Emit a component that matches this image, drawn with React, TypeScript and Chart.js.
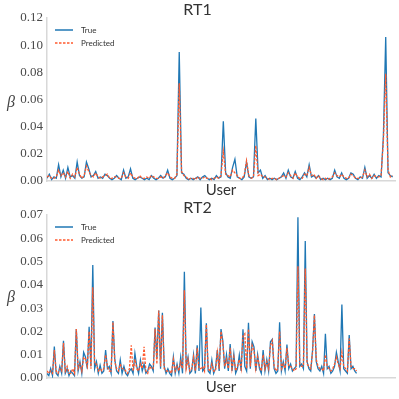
import React, { useEffect, useRef } from "react";
import { Chart, registerables } from "chart.js";

Chart.register(...registerables);

// RT1 (top panel)
const rt1True = [
  0.002, 0.005, 0.001, 0.003, 0.002, 0.012, 0.003, 0.008, 0.002, 0.010,
  0.003, 0.004, 0.002, 0.014, 0.004, 0.002, 0.003, 0.014, 0.009, 0.003,
  0.004, 0.007, 0.002, 0.003, 0.002, 0.005, 0.004, 0.002, 0.001, 0.002,
  0.004, 0.002, 0.001, 0.008, 0.002, 0.003, 0.009, 0.002, 0.001, 0.002,
  0.003, 0.002, 0.001, 0.002, 0.001, 0.004, 0.002, 0.001, 0.002, 0.004,
  0.002, 0.003, 0.008, 0.002, 0.001, 0.002, 0.004, 0.095, 0.006, 0.005,
  0.002, 0.001, 0.002, 0.001, 0.002, 0.003, 0.001, 0.003, 0.004, 0.002,
  0.001, 0.002, 0.001, 0.004, 0.002, 0.003, 0.044, 0.006, 0.003, 0.002,
  0.010, 0.016, 0.003, 0.002, 0.001, 0.003, 0.014, 0.003, 0.002, 0.003,
  0.046, 0.006, 0.008, 0.002, 0.004, 0.001, 0.002, 0.001, 0.002, 0.001,
  0.002, 0.003, 0.006, 0.002, 0.008, 0.003, 0.002, 0.007, 0.002, 0.001,
  0.003, 0.006, 0.003, 0.012, 0.003, 0.004, 0.002, 0.004, 0.001, 0.002,
  0.001, 0.002, 0.001, 0.002, 0.008, 0.003, 0.002, 0.006, 0.002, 0.001,
  0.002, 0.006, 0.005, 0.002, 0.001, 0.003, 0.002, 0.010, 0.002, 0.004,
  0.002, 0.005, 0.002, 0.004, 0.003, 0.033, 0.106, 0.006, 0.004, 0.003,
];
const rt1Pred = [
  0.003, 0.004, 0.002, 0.002, 0.003, 0.008, 0.004, 0.006, 0.003, 0.007,
  0.002, 0.005, 0.003, 0.010, 0.005, 0.002, 0.004, 0.011, 0.007, 0.004,
  0.003, 0.006, 0.003, 0.002, 0.003, 0.004, 0.005, 0.002, 0.002, 0.003,
  0.003, 0.002, 0.002, 0.006, 0.003, 0.002, 0.006, 0.003, 0.002, 0.002,
  0.004, 0.002, 0.002, 0.003, 0.002, 0.004, 0.003, 0.002, 0.002, 0.003,
  0.002, 0.004, 0.006, 0.003, 0.002, 0.002, 0.005, 0.072, 0.007, 0.004,
  0.003, 0.001, 0.002, 0.002, 0.001, 0.003, 0.002, 0.002, 0.003, 0.002,
  0.002, 0.001, 0.002, 0.003, 0.002, 0.004, 0.022, 0.005, 0.004, 0.003,
  0.008, 0.006, 0.004, 0.002, 0.002, 0.004, 0.015, 0.004, 0.002, 0.003,
  0.026, 0.004, 0.005, 0.003, 0.003, 0.002, 0.001, 0.002, 0.002, 0.001,
  0.002, 0.003, 0.004, 0.003, 0.006, 0.004, 0.002, 0.006, 0.003, 0.002,
  0.002, 0.005, 0.004, 0.010, 0.004, 0.005, 0.002, 0.004, 0.002, 0.001,
  0.002, 0.001, 0.002, 0.003, 0.006, 0.004, 0.003, 0.005, 0.003, 0.002,
  0.002, 0.005, 0.004, 0.002, 0.002, 0.002, 0.003, 0.008, 0.003, 0.005,
  0.002, 0.004, 0.003, 0.003, 0.004, 0.030, 0.079, 0.008, 0.003, 0.004,
];

// RT2 (bottom panel)
const rt2True = [
  0.002, 0.001, 0.004, 0.001, 0.0135, 0.002, 0.001, 0.005, 0.002, 0.016,
  0.002, 0.004, 0.001, 0.003, 0.002, 0.001, 0.021, 0.003, 0.007, 0.002,
  0.011, 0.009, 0.004, 0.022, 0.005, 0.0485, 0.004, 0.007, 0.002, 0.0055,
  0.002, 0.003, 0.012, 0.004, 0.005, 0.002, 0.0245, 0.008, 0.003, 0.002,
  0.0077, 0.002, 0.005, 0.002, 0.001, 0.003, 0.004, 0.002, 0.0106, 0.005,
  0.002, 0.0077, 0.003, 0.006, 0.002, 0.003, 0.006, 0.005, 0.003, 0.0217,
  0.0085, 0.029, 0.004, 0.028, 0.005, 0.002, 0.004, 0.002, 0.001, 0.009,
  0.002, 0.006, 0.002, 0.009, 0.002, 0.0456, 0.005, 0.009, 0.002, 0.003,
  0.010, 0.002, 0.014, 0.003, 0.0303, 0.003, 0.004, 0.0235, 0.003, 0.002,
  0.0077, 0.002, 0.004, 0.012, 0.003, 0.021, 0.016, 0.004, 0.010, 0.003,
  0.0146, 0.003, 0.0103, 0.002, 0.004, 0.0099, 0.003, 0.0209, 0.005, 0.003,
  0.0237, 0.004, 0.0156, 0.0134, 0.003, 0.010, 0.004, 0.002, 0.012, 0.003,
  0.008, 0.003, 0.0156, 0.0166, 0.004, 0.002, 0.003, 0.0239, 0.003, 0.007,
  0.003, 0.0144, 0.004, 0.006, 0.003, 0.004, 0.005, 0.069, 0.005, 0.006,
  0.004, 0.0588, 0.007, 0.004, 0.003, 0.012, 0.0275, 0.007, 0.004, 0.003,
  0.005, 0.002, 0.019, 0.004, 0.005, 0.002, 0.003, 0.005, 0.011, 0.007,
  0.003, 0.0316, 0.004, 0.003, 0.002, 0.0185, 0.004, 0.005, 0.003, 0.002,
];
const rt2Pred = [
  0.003, 0.002, 0.003, 0.002, 0.012, 0.003, 0.002, 0.004, 0.003, 0.015,
  0.003, 0.005, 0.002, 0.002, 0.004, 0.002, 0.021, 0.004, 0.006, 0.003,
  0.009, 0.008, 0.005, 0.020, 0.004, 0.039, 0.006, 0.006, 0.003, 0.004,
  0.003, 0.004, 0.010, 0.005, 0.003, 0.003, 0.024, 0.007, 0.004, 0.003,
  0.006, 0.004, 0.004, 0.003, 0.002, 0.004, 0.014, 0.003, 0.008, 0.004,
  0.003, 0.006, 0.004, 0.0134, 0.003, 0.002, 0.005, 0.004, 0.004, 0.021,
  0.006, 0.029, 0.005, 0.027, 0.004, 0.003, 0.003, 0.003, 0.002, 0.008,
  0.003, 0.005, 0.003, 0.007, 0.004, 0.0377, 0.004, 0.008, 0.003, 0.004,
  0.009, 0.003, 0.013, 0.004, 0.004, 0.005, 0.003, 0.023, 0.004, 0.003,
  0.006, 0.003, 0.003, 0.011, 0.004, 0.020, 0.015, 0.005, 0.008, 0.004,
  0.013, 0.004, 0.009, 0.003, 0.005, 0.008, 0.004, 0.018, 0.019, 0.004,
  0.021, 0.005, 0.014, 0.012, 0.004, 0.009, 0.005, 0.003, 0.010, 0.004,
  0.007, 0.004, 0.014, 0.016, 0.005, 0.003, 0.004, 0.020, 0.004, 0.006,
  0.004, 0.013, 0.005, 0.005, 0.004, 0.003, 0.004, 0.048, 0.006, 0.005,
  0.005, 0.047, 0.006, 0.005, 0.004, 0.011, 0.027, 0.008, 0.005, 0.004,
  0.004, 0.003, 0.010, 0.005, 0.004, 0.003, 0.004, 0.006, 0.009, 0.006,
  0.004, 0.011, 0.005, 0.004, 0.003, 0.017, 0.005, 0.004, 0.004, 0.003,
];

const seriesNames = ["True", "Predicted"];
const yTicks1 = [0, 0.02, 0.04, 0.06, 0.08, 0.1, 0.12];
const yTicks2 = [0, 0.01, 0.02, 0.03, 0.04, 0.05, 0.06, 0.07];

const BLUE = "#1f77b4";
const RED = "#ff5a2e";
const SANS = "Lato, 'DejaVu Sans', sans-serif";
const SERIF = "'Liberation Serif', 'DejaVu Serif', serif";
const DASH = [2.5, 1.5];

function makeOverlay(yLabelOffset: number) {
  return {
    id: "overlay",
    afterDraw(chart: any) {
      const { ctx, chartArea } = chart;
      ctx.save();
      // legend
      const lx = chartArea.left + 8;
      const rows = [
        { y: chartArea.top + 12, color: BLUE, dash: [] as number[] },
        { y: chartArea.top + 25, color: RED, dash: DASH },
      ];
      rows.forEach((r, i) => {
        ctx.beginPath();
        ctx.setLineDash(r.dash);
        ctx.strokeStyle = r.color;
        ctx.lineWidth = 1.5;
        ctx.moveTo(lx, r.y);
        ctx.lineTo(lx + 18, r.y);
        ctx.stroke();
        ctx.setLineDash([]);
        ctx.fillStyle = "#333";
        ctx.font = `8px ${SANS}`;
        ctx.textBaseline = "middle";
        ctx.textAlign = "left";
        ctx.fillText(seriesNames[i], lx + 26, r.y);
      });
      // y label
      ctx.fillStyle = "#444";
      ctx.font = `italic 16px ${SERIF}`;
      ctx.textAlign = "center";
      ctx.textBaseline = "middle";
      ctx.fillText("β", 11, (chartArea.top + chartArea.bottom) / 2 + yLabelOffset);
      ctx.restore();
    },
  };
}

function buildConfig(
  t: number[],
  p: number[],
  title: string,
  yMax: number,
  yStep: number,
  ticks: number[],
  xMax: number,
  xAxisH: number,
  titlePad: { top: number; bottom: number },
  titleLH: number,
  xTitlePadBottom: number
): any {
  return {
    type: "line",
    data: {
      datasets: [
        {
          label: seriesNames[0],
          data: t.map((y, i) => ({ x: i, y })),
          borderColor: BLUE,
          borderWidth: 1.3,
          pointRadius: 0,
          tension: 0,
          order: 1,
        },
        {
          label: seriesNames[1],
          data: p.map((y, i) => ({ x: i, y })),
          borderColor: RED,
          borderWidth: 1.3,
          borderDash: DASH,
          pointRadius: 0,
          tension: 0,
          order: 0,
        },
      ],
    },
    options: {
      responsive: false,
      animation: false,
      events: [],
      layout: { padding: { left: 0, right: 4, top: 0, bottom: 0 } },
      plugins: {
        legend: { display: false },
        tooltip: { enabled: false },
        title: {
          display: true,
          text: title,
          color: "#333",
          font: { family: SANS, size: 16, weight: "normal", lineHeight: titleLH },
          padding: titlePad,
        },
      },
      scales: {
        x: {
          type: "linear",
          min: 0,
          max: xMax,
          grid: { display: false, drawTicks: false },
          border: { display: true, color: "#d8d8d8", width: 1.5 },
          ticks: { display: false },
          title: {
            display: true,
            text: "User",
            color: "#333",
            font: { family: SANS, size: 15, lineHeight: 1.2 },
            padding: { top: 0, bottom: xTitlePadBottom },
          },
          afterFit(scale: any) {
            scale.height = xAxisH;
          },
        },
        y: {
          min: 0,
          max: yMax,
          grid: { display: false, drawTicks: false },
          border: { display: true, color: "#d8d8d8", width: 1.5 },
          afterBuildTicks(scale: any) {
            scale.ticks = ticks.map((v) => ({ value: v }));
          },
          ticks: {
            stepSize: yStep,
            padding: 4,
            color: "#4a4a4a",
            font: { family: SERIF, size: 13 },
            callback: (v: any) => Number(v).toFixed(2),
          },
          afterFit(scale: any) {
            scale.width = 47;
          },
        },
      },
    },
    plugins: [makeOverlay(yMax > 0.1 ? 3 : 1)],
  };
}

export default function App() {
  const ref1 = useRef<HTMLCanvasElement>(null);
  const ref2 = useRef<HTMLCanvasElement>(null);

  useEffect(() => {
    document.body.style.margin = "0";
    const c1 = new Chart(
      ref1.current as HTMLCanvasElement,
      buildConfig(rt1True, rt1Pred, "RT1", 0.12, 0.02, yTicks1, 150, 18, { top: 2, bottom: 0 }, 1, 0)
    );
    const c2 = new Chart(
      ref2.current as HTMLCanvasElement,
      buildConfig(rt2True, rt2Pred, "RT2", 0.07, 0.01, yTicks2, 190, 21, { top: 1, bottom: 0 }, 0.9375, 2.5)
    );
    return () => {
      c1.destroy();
      c2.destroy();
    };
  }, []);

  return (
    <div style={{ position: "absolute", left: 0, top: 0, width: 399, height: 399, background: "#fff" }}>
      <canvas ref={ref1} width={399} height={199} style={{ display: "block" }} />
      <canvas ref={ref2} width={399} height={200} style={{ display: "block" }} />
    </div>
  );
}
